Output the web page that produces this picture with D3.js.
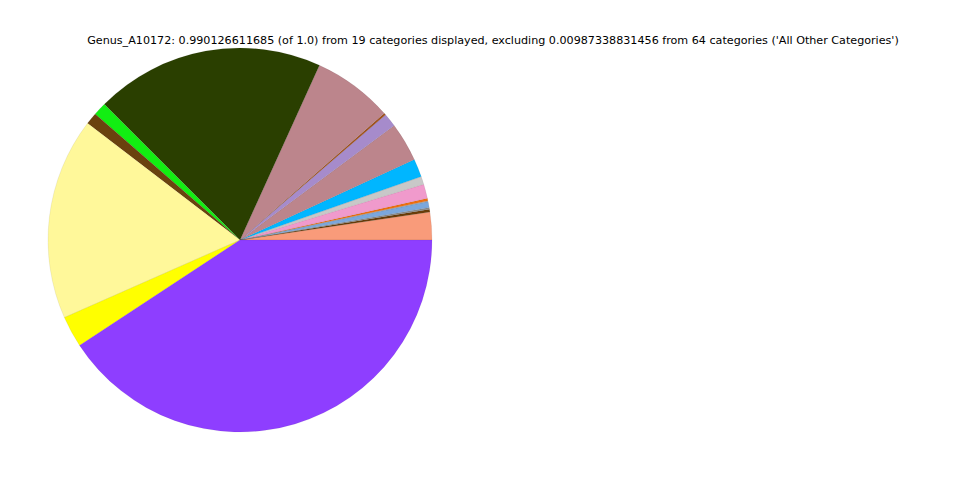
<!DOCTYPE html>
<html><head><meta charset="utf-8">
<script src="https://cdn.jsdelivr.net/npm/d3@7"></script>
<style>body{margin:0;background:#fff}svg{display:block}</style>
</head><body>
<svg id="c" width="960" height="480"></svg>
<script>
const categories = ["c1","c2","c3","c4","c5","c6","c7","c8","c9","c10","c11","c12","c13","c14","c15","c16","c17","c18","c19"];
const values = [0.0233,0.0024,0.0014,0.0050,0.0008,0.0020,0.0120,0.0067,0.0153,0.0328,0.0114,0.0017,0.0675,0.1930,0.0111,0.0100,0.1703,0.0264,0.4078];
const colors = ["#F99B7A","#6A3D0A","#8C8C8C","#7BA7DC","#A0A0A0","#F07010","#F09ACC","#C8C8C8","#00B6FF","#BC858C","#A68BCB","#A0521E","#BC858C","#2A3F00","#12EE12","#6A420E","#FFF89A","#FFFF00","#8E3EFF"];
const title = "Genus_A10172: 0.990126611685 (of 1.0) from 19 categories displayed, excluding 0.00987338831456 from 64 categories ('All Other Categories')";

const svg = d3.select("#c");
const cx = 240, cy = 240, r = 192;
const data = categories.map((c,i)=>({c, v: values[i], col: colors[i]}));
const pie = d3.pie().value(d=>d.v).sort(null).startAngle(Math.PI/2).endAngle(Math.PI/2 - 2*Math.PI);
const arc = d3.arc().innerRadius(0).outerRadius(r);
const g = svg.append("g").attr("transform", `translate(${cx},${cy})`);
g.selectAll("path").data(pie(data)).join("path")
  .attr("d", arc)
  .attr("fill", d=>d.data.col)
  .attr("stroke", "rgba(0,0,0,0.2)")
  .attr("stroke-width", 0.3);
svg.append("text").attr("x", 493).attr("y", 44).attr("text-anchor","middle")
  .attr("font-family","DejaVu Sans").attr("font-size", 11.15).attr("fill","#000").text(title);
</script>
</body></html>
